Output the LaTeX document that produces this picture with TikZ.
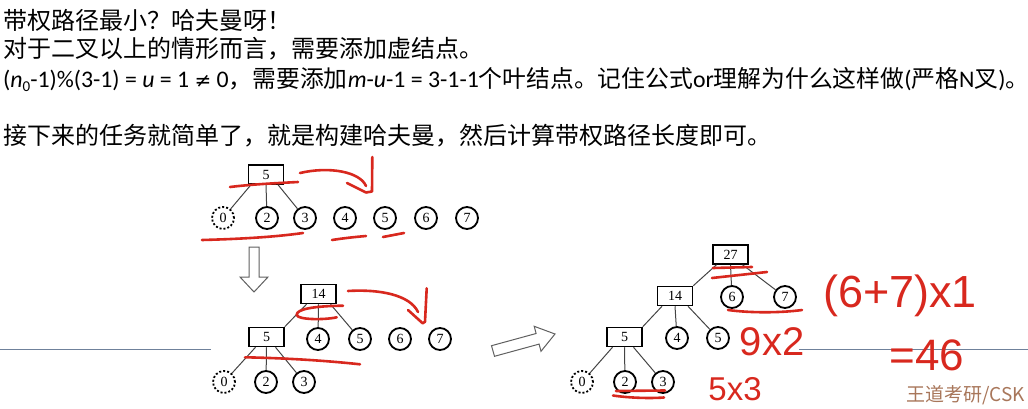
\documentclass[tikz,border=0pt]{standalone}
\usepackage{fontspec}
\setmainfont{Carlito}
\newfontfamily\cjk{Noto Sans CJK SC}
\newfontfamily\symfont{DejaVu Sans}
\newfontfamily\nodefont{Liberation Serif}
\newfontfamily\handfont{Liberation Sans}
\definecolor{ink}{HTML}{D8281E}
\definecolor{rulecol}{HTML}{6F819B}
\definecolor{markcol}{HTML}{A8765A}
\definecolor{edgecol}{HTML}{444444}
\begin{document}
\begin{tikzpicture}[x=1pt,y=-1pt,
  leaf/.style={circle,draw,line width=1.8pt,minimum size=22pt,inner sep=0pt,
    font=\nodefont\fontsize{14}{14}\selectfont},
  dummy/.style={leaf,dash pattern=on 2pt off 2pt},
  weight/.style={rectangle,draw,line width=1.5pt,minimum width=35pt,minimum height=19pt,
    inner sep=0pt,font=\nodefont\fontsize{14}{14}\selectfont},
  branch/.style={draw=edgecol,line width=1pt},
  pen/.style={draw=ink,line width=2.6pt,line cap=round,line join=round},
  hollow/.style={draw=gray!75!black,line width=1pt,fill=white},
  textline/.style={anchor=base west,inner sep=0pt,font=\fontsize{24}{28}\selectfont},
  hand/.style={text=ink,inner sep=0pt,font=\handfont\fontsize{40}{40}\selectfont},
  slide rule/.style={draw=rulecol,line width=1.2pt},
]
\useasboundingbox (0,0) rectangle (1028,409);

% slide text
\node[textline] (t1) at (3,30) {\cjk 带权路径最小？哈夫曼呀！};
\node[textline] (t2) at (3,58) {\cjk 对于二叉以上的情形而言，需要添加虚结点。};
\node[textline,font=\fontsize{23.8}{28}\selectfont] (t3) at (3,88) {(\textit{n}\raisebox{-4pt}{\fontsize{15}{15}\selectfont 0}-1)\%(3-1) = \textit{u} = 1 {\symfont\fontsize{20}{20}\selectfont ≠} 0{\cjk ，需要添加}\textit{m}-\textit{u}-1 = 3-1-1{\cjk 个叶结点。记住公式}or{\cjk 理解为什么这样做}({\cjk 严格}N{\cjk 叉}){\cjk 。}};
\node[textline] (t4) at (3,145) {\cjk 接下来的任务就简单了，就是构建哈夫曼，然后计算带权路径长度即可。};

% slide separator lines
\draw[slide rule] (0,349.5) -- (211,349.5);
\draw[slide rule] (799,349.5) -- (1028,349.5);

% step 1: merge 0, 2, 3
\node[weight] (a5) at (266,174.5) {5};
\node[dummy] (a0) at (223,218) {0};
\node[leaf] (a2) at (267,218) {2};
\node[leaf] (a3) at (305,218) {3};
\node[leaf] (a4) at (345,218) {4};
\node[leaf] (a5c) at (385,218) {5};
\node[leaf] (a6) at (426,218) {6};
\node[leaf] (a7) at (467,218) {7};
\draw[branch] ([xshift=-15pt]a5.south) -- (a0);
\draw[branch] (a5.south) -- (a2);
\draw[branch] ([xshift=12pt]a5.south) -- (a3);

% hollow down arrow
\draw[hollow] (249,247) -- (259,247) -- (259,277) -- (268,277) -- (254,292) -- (240,277) -- (249,277) -- cycle;

% step 2: merge 5, 4, 5
\node[weight] (b14) at (318.5,294) {14};
\node[weight] (b5) at (266.5,337) {5};
\node[leaf] (b4) at (318,339) {4};
\node[leaf] (b5c) at (360,339) {5};
\node[leaf] (b6) at (400,339) {6};
\node[leaf] (b7) at (440,339) {7};
\node[dummy] (b0) at (224,382) {0};
\node[leaf] (b2) at (266,382) {2};
\node[leaf] (b3) at (304,382) {3};
\draw[branch] ([xshift=-12pt]b14.south) -- (b5.north east);
\draw[branch] (b14.south) -- (b4);
\draw[branch] ([xshift=12pt]b14.south) -- (b5c);
\draw[branch] ([xshift=-11pt]b5.south) -- (b0);
\draw[branch] (b5.south) -- (b2);
\draw[branch] ([xshift=9pt]b5.south) -- (b3);

% hollow right arrow
\draw[hollow] (491.5,345.7) -- (536.1,333.5) -- (534.2,326.3) -- (555,334) -- (541,351.3) -- (539.1,344.1) -- (494.5,356.3) -- cycle;

% final ternary Huffman tree
\node[weight] (c27) at (730.5,254.5) {27};
\node[weight] (c14) at (675,296) {14};
\node[leaf] (c6) at (732,297) {6};
\node[leaf] (c7) at (785,297) {7};
\node[weight] (c5) at (624.5,337) {5};
\node[leaf] (c4) at (677,338) {4};
\node[leaf] (c5c) at (718,338) {5};
\node[dummy] (c0) at (582,382) {0};
\node[leaf] (c2) at (625,382) {2};
\node[leaf] (c3) at (663,382) {3};
\draw[branch] ([xshift=-14pt]c27.south) -- (c14.north east);
\draw[branch] (c27.south) -- (c6);
\draw[branch] ([xshift=12pt]c27.south) -- (c7);
\draw[branch] ([xshift=-13pt]c14.south) -- (c5.north east);
\draw[branch] (c14.south) -- (c4);
\draw[branch] ([xshift=13pt]c14.south) -- (c5c);
\draw[branch] ([xshift=-12pt]c5.south) -- (c0);
\draw[branch] (c5.south) -- (c2);
\draw[branch] ([xshift=9pt]c5.south) -- (c3);

% handwritten working
\node[hand] (w1) at (772,342) {9x2};
\node[hand,font=\handfont\fontsize{33}{33}\selectfont] (w2) at (735,389) {5x3};
\node[hand,font=\handfont\fontsize{45}{45}\selectfont] (w3) at (900,296) {(6+7)x1};
\node[hand,font=\handfont\fontsize{44}{44}\selectfont] (w4) at (927,355) {=46};

% red pen strokes, step 1
\draw[pen] (230,187) .. controls (255,184) and (280,183) .. (298,182);
\draw[pen] (300,173) .. controls (330,166) and (360,172) .. (366,186);
\draw[pen] (347,183) -- (366,192.5) -- (372,191.5) -- (372.3,157);
\draw[pen] (202,240) .. controls (240,239) and (275,237) .. (303,233);
\draw[pen] (332,240) .. controls (345,238) and (355,237) .. (366,236);
\draw[pen] (383,237) -- (404,233);
% red pen strokes, step 2
\draw[pen] (348,291) .. controls (380,289) and (410,295) .. (418,312);
\draw[pen] (408,310) -- (422.7,323.3) -- (425,321.7) -- (426.7,288.3);
\draw[pen] (343,305.7) .. controls (315,306) and (296,309) .. (296.7,315)
  .. controls (298,320) and (325,320) .. (336.7,317.3);
\draw[pen] (245,357.3) .. controls (280,358) and (320,360) .. (360,364.3);
% red pen strokes, final tree
\draw[pen] (713,268) -- (752,267);
\draw[pen] (712,278) -- (767,272);
\draw[pen] (728,310) .. controls (750,313) and (780,313) .. (802,310);
\draw[pen] (616,391) -- (665,390.5);
\draw[pen] (613,395.5) .. controls (630,398) and (650,398.5) .. (664,397.5);

% watermark
\node[anchor=base west,inner sep=0pt,text=markcol,font=\cjk\fontsize{19}{19}\selectfont] (wm) at (906,401) {王道考研/CSK};
\end{tikzpicture}
\end{document}
